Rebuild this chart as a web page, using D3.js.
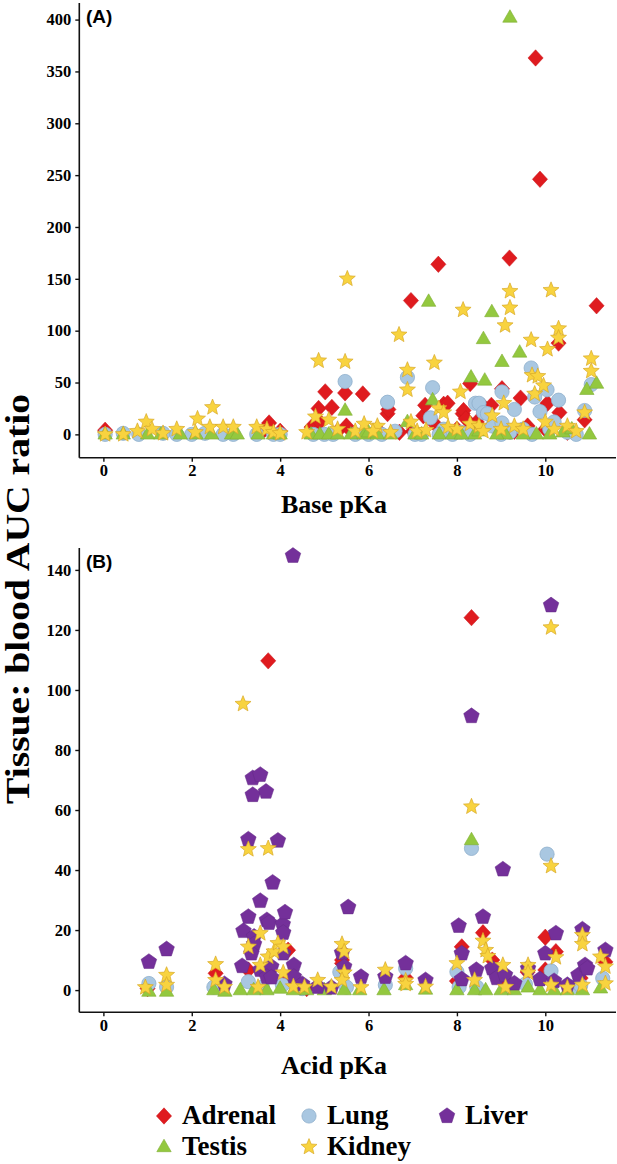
<!DOCTYPE html>
<html><head><meta charset="utf-8">
<script src="https://cdn.jsdelivr.net/npm/d3@7"></script>
<style>body{margin:0;background:#fff}svg{display:block}</style>
</head><body>
<svg id="c" width="617" height="1164"></svg>
<script>
// ---------- DATA ----------
const xTicks = [0, 2, 4, 6, 8, 10];
const yTicksA = [0, 50, 100, 150, 200, 250, 300, 350, 400];
const yTicksB = [0, 20, 40, 60, 80, 100, 120, 140];
const seriesNames = ["Adrenal", "Testis", "Lung", "Kidney", "Liver"];

// Panel A: base pKa vs tissue:blood AUC ratio  [pKa, ratio]
const adrenalA = [[0.04,4],[3.75,11],[4.71,7],[4.87,25],[5.02,41],[5.17,26],[5.47,40],[5.87,39],[4.9,12],[5.3,3],[6.43,20],[6.45,24],[6.96,129],[7.24,18],[7.28,28],[7.58,164],[7.7,29],[7.79,30],[8.13,20],[8.15,23],[8.3,49],[8.6,27],[8.78,28],[9.02,44],[9.19,170],[9.44,35],[9.78,363],[9.88,246],[10.05,30],[10.3,88],[10.32,21],[10.89,14],[11.16,124],[5.5,8],[6.2,5],[7.0,3],[7.5,10],[8.0,5],[8.45,12],[8.9,6],[9.3,3],[9.6,8],[10.0,5],[10.5,2],[4.0,3],[3.65,5],[6.7,2],[8.2,15]];
const testisA = [[0.04,0],[0.45,0],[1.0,0],[1.3,0],[1.74,0],[2.1,0],[2.45,0],[2.9,0],[3.03,0],[3.5,0],[3.85,0],[4.0,0],[4.7,0],[4.9,0],[5.1,0],[5.3,0],[5.47,23],[5.6,0],[5.9,0],[6.2,0],[6.5,0],[6.88,12],[7.05,0],[7.36,128],[7.45,33],[7.6,0],[7.9,0],[8.32,55],[8.4,0],[8.63,52],[8.6,92],[8.79,118],[8.5,3],[9.02,70],[9.2,402],[9.1,0],[9.42,79],[9.5,0],[9.8,0],[10.1,0],[10.4,2],[10.6,5],[10.94,43],[11.16,49],[11.0,0],[7.2,0],[8.1,0],[6.0,2],[8.9,0]];
const lungA = [[0.04,0],[0.45,1],[0.8,0],[1.35,1],[1.66,0],[2.0,0],[2.3,1],[2.71,0],[2.94,0],[3.47,0],[3.85,0],[4.0,0],[4.75,0],[5.0,0],[5.2,0],[5.47,51],[5.7,0],[6.0,0],[6.43,31],[6.6,3],[6.88,55],[7.05,0],[7.2,0],[7.45,45],[7.4,16],[7.7,5],[7.9,0],[8.1,2],[8.42,30],[8.5,30],[8.6,21],[8.69,20],[8.8,8],[9.02,41],[9.02,11],[9.2,2],[9.3,24],[9.5,5],[9.68,64],[9.76,36],[9.88,22],[10.04,43],[10.3,33],[10.1,5],[10.5,2],[10.7,0],[10.89,23],[11.04,48],[8.3,0],[9.7,0],[9.0,0],[7.6,0],[6.3,0],[10.2,12]];
const kidneyA = [[0.04,0],[0.45,0],[0.77,3],[0.97,12],[1.1,5],[1.35,1],[1.66,5],[2.08,2],[2.13,15],[2.41,7],[2.47,26],[2.71,7],[2.94,7],[3.47,7],[3.7,5],[3.85,2],[4.0,1],[4.6,2],[4.8,17],[4.87,71],[5.1,14],[5.3,5],[5.47,70],[5.52,150],[5.7,3],[5.9,10],[6.2,8],[6.5,2],[6.69,96],[6.88,62],[6.88,43],[6.96,12],[7.1,3],[7.49,69],[7.59,25],[7.7,21],[7.8,7],[8.08,41],[8.14,120],[8.0,5],[8.3,10],[8.5,8],[8.8,18],[9.06,30],[9.09,105],[9.2,122],[9.2,138],[9.0,5],[9.3,8],[9.5,5],[9.68,91],[9.7,57],[9.76,39],[9.83,56],[9.96,47],[10.05,82],[10.13,139],[10.3,102],[10.3,93],[10.0,12],[10.2,5],[10.5,8],[10.7,3],[10.89,21],[11.04,73],[11.04,61],[8.6,3],[7.3,4],[6.1,3]];

// Panel B: acid pKa vs tissue:blood AUC ratio  [pKa, ratio]
const adrenalB = [[2.54,5.6],[3.28,6.7],[3.73,109.7],[4.18,13.3],[4.2,4],[5.4,10],[5.4,8.9],[6.84,4.1],[8.11,14.4],[8.33,124.1],[8.59,19.1],[8.8,10],[8.0,3],[9.6,6],[10.0,17.6],[10.0,6.7],[10.24,12.8],[11.36,9.4],[10.8,4],[1.0,0.5],[4.6,0.5],[9.1,2]];
const testisB = [[1.03,-0.5],[1.43,-0.5],[2.5,0],[2.75,-0.5],[3.1,0],[3.4,0],[3.7,0],[4.0,0.5],[4.3,0],[4.6,0],[5.0,0],[5.45,0],[5.8,0],[6.35,0],[6.84,1.7],[7.29,0.2],[8.0,0],[8.33,50],[8.4,0],[8.65,0],[9.0,0],[9.3,0],[9.61,0.9],[9.88,0],[10.2,0],[10.5,0],[10.84,0],[11.25,0.6]];
const lungB = [[1.03,2.2],[1.43,1],[2.5,1],[3.28,2.8],[3.6,1],[4.05,1.7],[4.5,0.5],[5.35,6],[5.5,1],[6.38,1.7],[6.84,7.2],[8.0,6.1],[8.05,1],[8.33,47.2],[8.45,1],[9.2,1],[9.55,2],[10.04,45.3],[10.13,6.4],[10.6,1],[10.8,1.5],[11.3,3.9]];
const liverB = [[1.03,9.4],[1.43,13.6],[2.74,2],[3.14,8],[3.17,19.7],[3.28,50.2],[3.28,24.4],[3.38,70.6],[3.38,65],[3.41,17.8],[3.41,15.3],[3.35,12.2],[3.55,71.7],[3.55,29.7],[3.55,6.7],[3.68,66.1],[3.7,23.3],[3.75,22.4],[3.83,35.8],[3.95,49.8],[3.8,7.8],[3.7,4.4],[3.8,4.2],[4.06,21.9],[4.07,19.1],[4.07,12.2],[4.11,25.9],[4.29,144.7],[4.31,8.3],[4.31,4.4],[4.5,2],[4.85,1.1],[5.16,0.8],[5.4,12.4],[5.45,7.8],[5.54,27.6],[5.83,4.4],[6.38,4.4],[6.84,8.9],[7.29,3.3],[8.04,21.4],[8.11,12.2],[8.11,3.6],[8.33,91.3],[8.44,6.7],[8.59,24.4],[8.8,7.2],[8.9,4],[9.04,40.2],[9.09,5],[9.3,2.2],[9.61,7.2],[9.88,3.6],[10.13,128.2],[10.0,12.2],[10.24,18.9],[10.2,3],[10.5,1.7],[10.84,20.2],[10.75,5],[10.9,8.3],[10.95,7.2],[11.36,13.3]];
const kidneyB = [[0.95,0.9],[1.43,5],[1.43,1.7],[2.54,8.6],[2.54,3.3],[2.74,1],[3.16,95.3],[3.28,46.9],[3.28,14.4],[3.55,18.9],[3.55,8.3],[3.73,47.2],[3.73,11.1],[3.86,12.8],[3.95,15.6],[4.07,14.4],[4.07,5.8],[3.5,1],[4.3,1.2],[4.55,1],[4.85,3.3],[5.16,1.1],[5.4,15.3],[5.45,12.8],[5.45,5.8],[5.4,3.3],[5.83,0.9],[6.38,6.7],[6.84,3.1],[6.84,2],[7.29,1.1],[8.0,8.9],[8.33,61.1],[8.4,3.3],[8.59,16.4],[8.65,13.3],[8.7,11.3],[9.04,8.3],[9.1,1],[9.61,8.3],[9.61,5.8],[10.13,41.3],[10.13,120.8],[10.24,10.9],[10.13,1.7],[10.5,0.8],[10.84,18.3],[10.84,15.3],[10.84,1.7],[11.25,11.1],[11.36,7.8],[11.36,2.2]];

// ---------- STYLE ----------
const serif = "'Liberation Serif','Times New Roman',serif";
const sans = "'Liberation Sans',Arial,sans-serif";

function polyType(pts){ return {draw(ctx){ pts.forEach((p,i)=> i?ctx.lineTo(p[0],p[1]):ctx.moveTo(p[0],p[1])); ctx.closePath(); }}; }
function regular(n, r, rot){ const a=[]; for(let i=0;i<n;i++){const t=rot+i*2*Math.PI/n; a.push([r*Math.cos(t), r*Math.sin(t)]);} return a; }
function starPts(ro, ri){ const a=[]; for(let i=0;i<10;i++){const t=-Math.PI/2+i*Math.PI/5; const r=i%2?ri:ro; a.push([r*Math.cos(t), r*Math.sin(t)]);} return a; }
const shapes = {
  Adrenal: {type: polyType([[0,-8.2],[7.6,0],[0,8.2],[-7.6,0]]), fill:"#df1b1f", stroke:"#c8161a", sw:0.5},
  Testis:  {type: polyType([[0,-7.8],[7.2,4.7],[-7.2,4.7]]), fill:"#93c83f", stroke:"#7fae33", sw:0.6},
  Lung:    {type: {draw(ctx){ ctx.moveTo(7.1,0); ctx.arc(0,0,7.1,0,2*Math.PI); }}, fill:"#a9c7e1", stroke:"#8eaecb", sw:0.8},
  Kidney:  {type: polyType(starPts(8.4,3.7)), fill:"#f8d33f", stroke:"#d9a928", sw:0.7},
  Liver:   {type: polyType(regular(5,8.2,-Math.PI/2)), fill:"#74309a", stroke:"#642a86", sw:0.5}
};
const sym = n => d3.symbol().type(shapes[n].type)();

const svg = d3.select("#c");
const x = d3.scaleLinear().domain([-0.545, 11.6]).range([79.3, 616]);
const yA = d3.scaleLinear().domain([-22.5, 416]).range([457.7, 3]);
const yB = d3.scaleLinear().domain([-7.4, 147.3]).range([1012.3, 548]);

function panel(y, yTicks, layers, label, title, labelY, titleY){
  const g = svg.append("g");
  const [y0, y1] = y.range();
  layers.forEach(([name, data]) => {
    const s = shapes[name];
    g.append("g").selectAll("path").data(data).join("path")
      .attr("d", sym(name))
      .attr("transform", d => `translate(${x(d[0])},${y(d[1])})`)
      .attr("fill", s.fill).attr("stroke", s.stroke).attr("stroke-width", s.sw);
  });
  const ax = g.append("g").attr("transform", `translate(0,${y0})`)
    .call(d3.axisBottom(x).tickValues(xTicks).tickSize(4).tickPadding(3).tickFormat(d3.format("d")));
  const ay = g.append("g").attr("transform", `translate(${x.range()[0]},0)`)
    .call(d3.axisLeft(y).tickValues(yTicks).tickSize(4).tickPadding(4).tickFormat(d3.format("d")));
  [ax, ay].forEach(a => {
    a.attr("font-family", serif).attr("font-size", 16.5);
    a.select(".domain").attr("stroke", "#111").attr("stroke-width", 1.6);
    a.selectAll(".tick line").attr("stroke", "#111").attr("stroke-width", 1.4);
    a.selectAll("text").attr("font-family", serif).attr("font-weight", "bold").attr("font-size", 16.5).attr("fill", "#000");
  });
  ax.select(".domain").attr("d", `M${x.range()[0]},0H${x.range()[1]}`);
  ay.select(".domain").attr("d", `M0,${y1}V${y0}`);
  g.append("text").attr("x", 86).attr("y", labelY).text(label)
    .attr("font-family", sans).attr("font-weight", "bold").attr("font-size", 19).attr("fill", "#000");
  g.append("text").attr("x", 334).attr("y", titleY).attr("text-anchor", "middle").text(title)
    .attr("font-family", serif).attr("font-weight", "bold").attr("font-size", 26).attr("fill", "#000");
}

panel(yA, yTicksA, [["Adrenal", adrenalA], ["Lung", lungA], ["Testis", testisA], ["Kidney", kidneyA]], "(A)", "Base pKa", 23, 513);
panel(yB, yTicksB, [["Adrenal", adrenalB], ["Lung", lungB], ["Testis", testisB], ["Liver", liverB], ["Kidney", kidneyB]], "(B)", "Acid pKa", 568, 1074);

// y-axis title
svg.append("text").attr("transform", "translate(29,599) rotate(-90)")
  .attr("text-anchor", "middle").text("Tissue: blood AUC ratio")
  .attr("font-family", serif).attr("font-weight", "bold").attr("font-size", 34)
  .attr("textLength", 410).attr("lengthAdjust", "spacingAndGlyphs").attr("fill", "#000");

// legend
const legendPos = {Adrenal:[164,1116], Testis:[164,1147], Lung:[309,1116], Kidney:[309,1147], Liver:[447,1116]};
const lg = svg.append("g");
seriesNames.forEach(n => {
  const [lx, ly] = legendPos[n];
  const s = shapes[n];
  lg.append("path").attr("d", sym(n)).attr("transform", `translate(${lx},${ly})`)
    .attr("fill", s.fill).attr("stroke", s.stroke).attr("stroke-width", s.sw);
  lg.append("text").attr("x", lx + 18).attr("y", ly + 8).text(n)
    .attr("font-family", serif).attr("font-weight", "bold").attr("font-size", 27).attr("fill", "#000");
});
</script>
</body></html>
